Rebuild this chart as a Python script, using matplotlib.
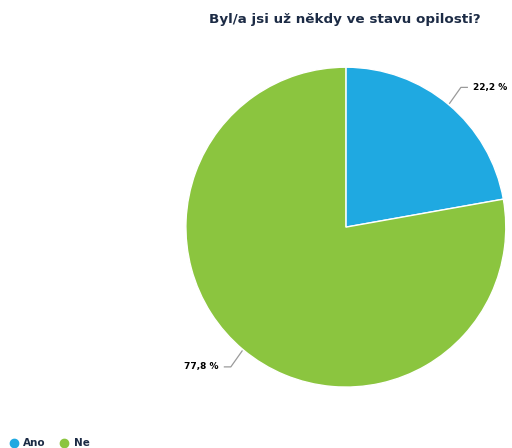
import matplotlib.pyplot as plt
from matplotlib.lines import Line2D
import numpy as np

labels = ['Ano', 'Ne']
values = [22.2, 77.8]
colors = ['#1fa9e1', '#8bc53f']

fig = plt.figure(figsize=(5.12, 4.48), dpi=100)
ax = fig.add_axes([0.363, 0.136, 0.625, 0.714])

wedges, _ = ax.pie(values, colors=colors, startangle=90, counterclock=False,
                   radius=1, wedgeprops=dict(edgecolor='white', linewidth=1))
ax.set_xlim(-1, 1)
ax.set_ylim(-1, 1)
ax.set_aspect('equal')

# percentage labels with bent leader lines
for w, v in zip(wedges, values):
    ang = np.deg2rad((w.theta1 + w.theta2) / 2)
    x, y = np.cos(ang), np.sin(ang)
    sx = 1 if x > 0 else -1
    ex, ey = x * 1.12, y * 1.14
    ax.plot([x * 1.01, ex, ex + sx * 0.04], [y * 1.01, ey, ey], color='#9a9a9a', lw=0.9,
            clip_on=False)
    txt = ('%.1f %%' % v).replace('.', ',')
    ax.text(ex + sx * 0.075, ey, txt, ha='left' if sx > 0 else 'right', va='center',
            fontsize=6.5, fontweight='bold', color='black')

fig.text(0.674, 0.957, 'Byl/a jsi už někdy ve stavu opilosti?', ha='center', va='center',
         fontsize=9.7, fontweight='bold', color='#1c2b45')

# legend at the bottom left
handles = [Line2D([], [], marker='o', ls='none', markersize=6, color=c) for c in colors]
leg = fig.legend(handles, labels, loc='lower left', bbox_to_anchor=(0.002, -0.022),
                 ncol=2, frameon=False, fontsize=7.5, handlelength=0.6, handletextpad=0.6,
                 columnspacing=1.5)
for t in leg.get_texts():
    t.set_color('#1c2b45')
    t.set_fontweight('bold')

fig.savefig('out.png', dpi=100)
